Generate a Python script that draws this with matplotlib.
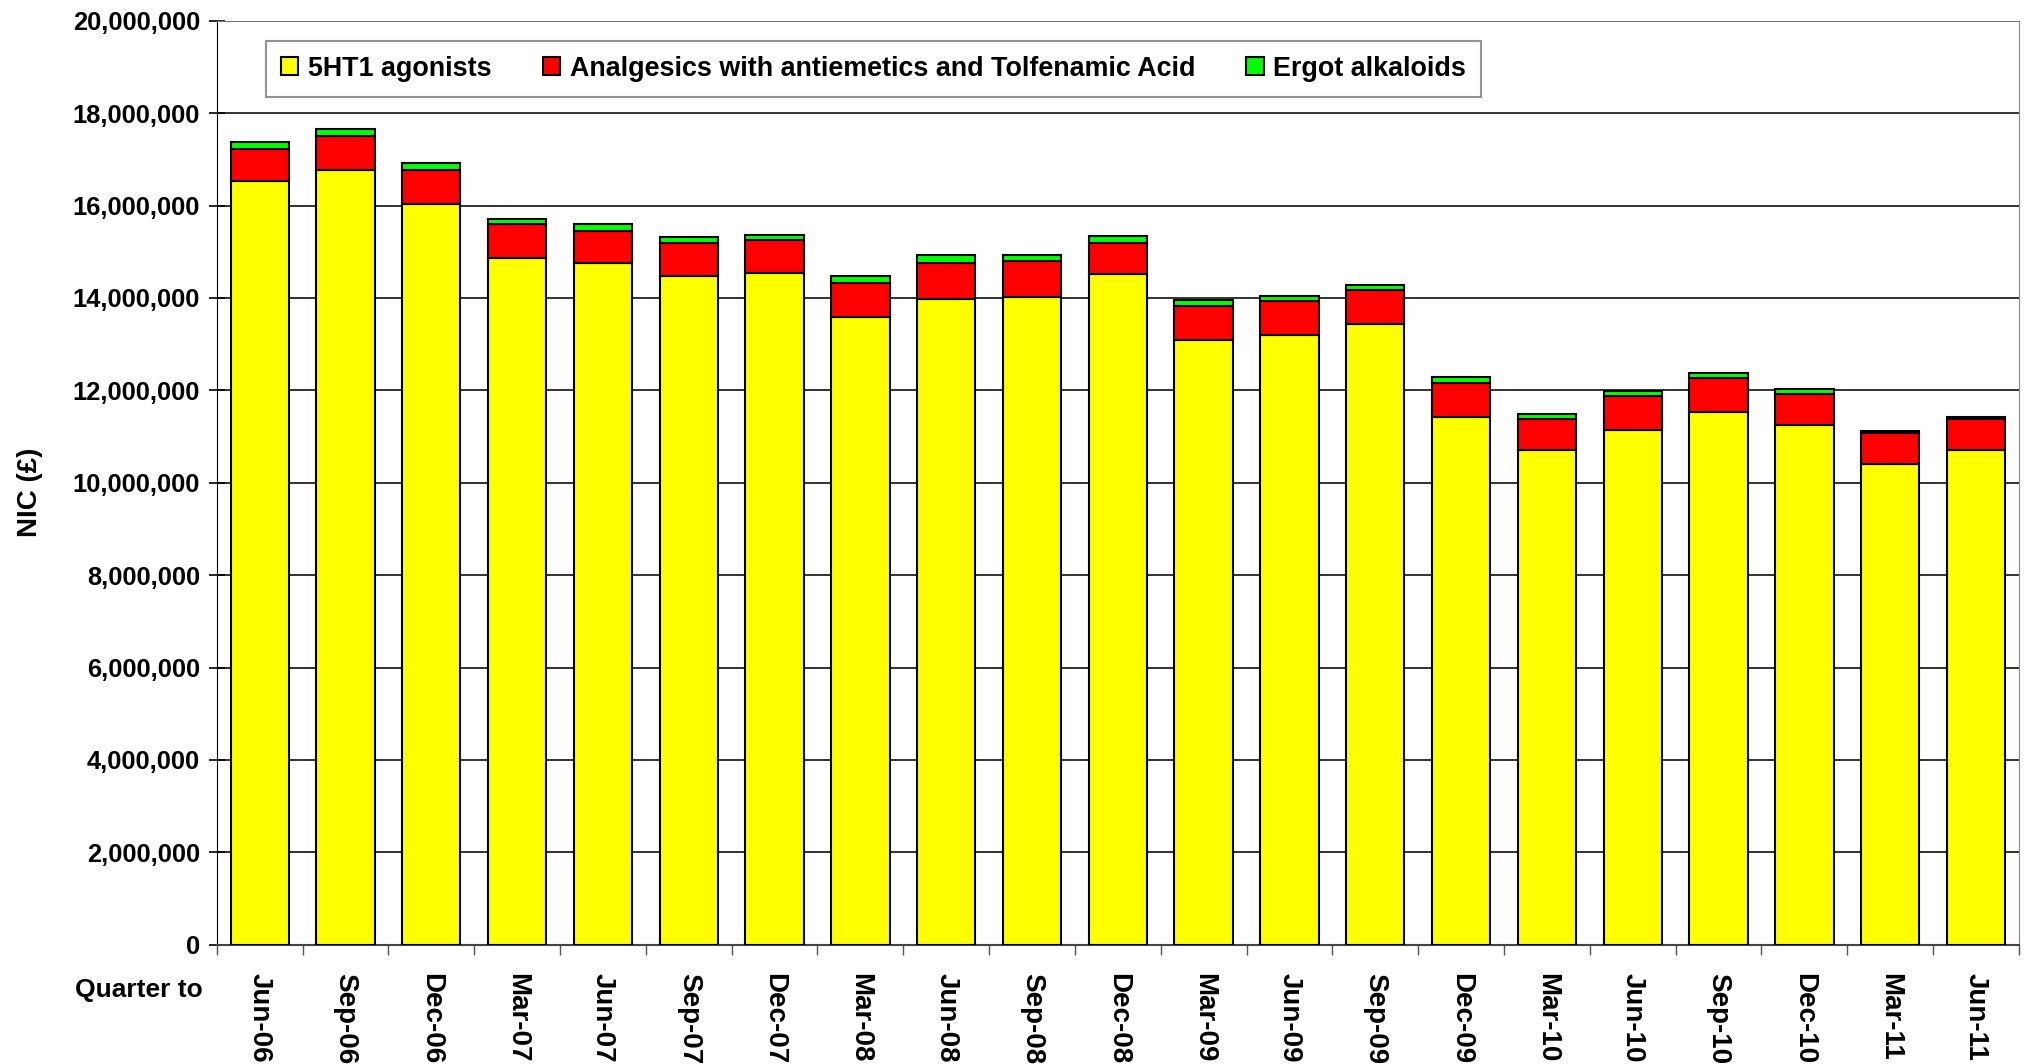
import numpy as np
import matplotlib
matplotlib.use("Agg")
import matplotlib.pyplot as plt
from matplotlib.ticker import FuncFormatter, MultipleLocator

plt.rcParams["font.family"] = ["Liberation Sans", "DejaVu Sans"]
plt.rcParams["font.weight"] = "bold"

# -------------------------------------------------------
# Data (NIC in pounds)
# -------------------------------------------------------
quarters = ["Jun-06", "Sep-06", "Dec-06", "Mar-07", "Jun-07", "Sep-07", "Dec-07",
            "Mar-08", "Jun-08", "Sep-08", "Dec-08", "Mar-09", "Jun-09", "Sep-09",
            "Dec-09", "Mar-10", "Jun-10", "Sep-10", "Dec-10", "Mar-11", "Jun-11"]

agonists_5ht1 = [16.53, 16.78, 16.04, 14.86, 14.76, 14.47, 14.53, 13.59, 13.98, 14.03,
                 14.52, 13.10, 13.20, 13.44, 11.43, 10.71, 11.15, 11.54, 11.24, 10.41, 10.70]
analgesics = [0.69, 0.72, 0.74, 0.73, 0.69, 0.73, 0.72, 0.74, 0.78, 0.78,
              0.68, 0.72, 0.73, 0.73, 0.73, 0.67, 0.72, 0.72, 0.67, 0.67, 0.67]
ergot = [0.15, 0.16, 0.15, 0.12, 0.16, 0.11, 0.11, 0.15, 0.16, 0.11,
         0.13, 0.13, 0.11, 0.12, 0.12, 0.11, 0.11, 0.11, 0.12, 0.05, 0.05]

series_names = ["5HT1 agonists", "Analgesics with antiemetics and Tolfenamic Acid",
                "Ergot alkaloids"]
series_colors = ["#FFFF00", "#FF0000", "#00FF00"]

# values were read in millions
s1 = np.array(agonists_5ht1) * 1e6
s2 = np.array(analgesics) * 1e6
s3 = np.array(ergot) * 1e6

# -------------------------------------------------------
# Figure
# -------------------------------------------------------
fig = plt.figure(figsize=(20.26, 10.64), dpi=100)
ax = fig.add_axes([0.107, 0.1121, 0.8895, 0.8684])

x = np.arange(len(quarters))
w = 0.68
ax.bar(x, s1, w, color=series_colors[0], edgecolor="black", linewidth=1.5,
       label=series_names[0], zorder=3)
ax.bar(x, s2, w, bottom=s1, color=series_colors[1], edgecolor="black", linewidth=1.5,
       label=series_names[1], zorder=3)
ax.bar(x, s3, w, bottom=s1 + s2, color=series_colors[2], edgecolor="black", linewidth=1.5,
       label=series_names[2], zorder=3)

ax.set_xlim(-0.5, len(quarters) - 0.5)
ax.set_ylim(0, 20_000_000)
ax.yaxis.set_major_locator(MultipleLocator(2_000_000))
ax.yaxis.set_major_formatter(FuncFormatter(lambda v, p: f"{int(v):,}"))
ax.grid(axis="y", color="#222222", linewidth=1.3, zorder=0)

ax.set_xticks(x)
ax.set_xticklabels(quarters, rotation=270, fontsize=20, fontweight="bold",
                   va="top", ha="center")
ax.set_xticks(np.arange(len(quarters) + 1) - 0.5, minor=True)
ax.tick_params(axis="x", which="major", length=0, pad=20)
ax.tick_params(axis="x", which="minor", length=7, width=1, direction="out", color="#555555")
ax.tick_params(axis="y", length=12, width=1.2, direction="inout", labelsize=18.4, pad=6)
for lbl in ax.get_yticklabels():
    lbl.set_fontweight("bold")

ax.spines["left"].set_color("black")
ax.spines["bottom"].set_color("#444444")
ax.spines["bottom"].set_linewidth(1.5)
ax.spines["top"].set_color("#777777")
ax.spines["right"].set_color("#888888")

fig.text(30 / 2026, 1 - 492 / 1064, "NIC (£)", rotation=90, fontsize=20,
         fontweight="bold", ha="center", va="center")
fig.text(203 / 2026, 1 - 990 / 1064, "Quarter to", fontsize=19,
         fontweight="bold", ha="right", va="center")

leg = ax.legend(loc="upper left", bbox_to_anchor=(266 / 2026, 1 - 41 / 1064),
                bbox_transform=fig.transFigure, ncol=3, fontsize=19.4,
                frameon=True, fancybox=False, edgecolor="#777777",
                handlelength=0.65, handleheight=0.65, handletextpad=0.35,
                columnspacing=1.9, borderpad=0.55, borderaxespad=0)
leg.get_frame().set_linewidth(1.5)
for t in leg.get_texts():
    t.set_fontweight("bold")

fig.savefig("out.png", dpi=100)
